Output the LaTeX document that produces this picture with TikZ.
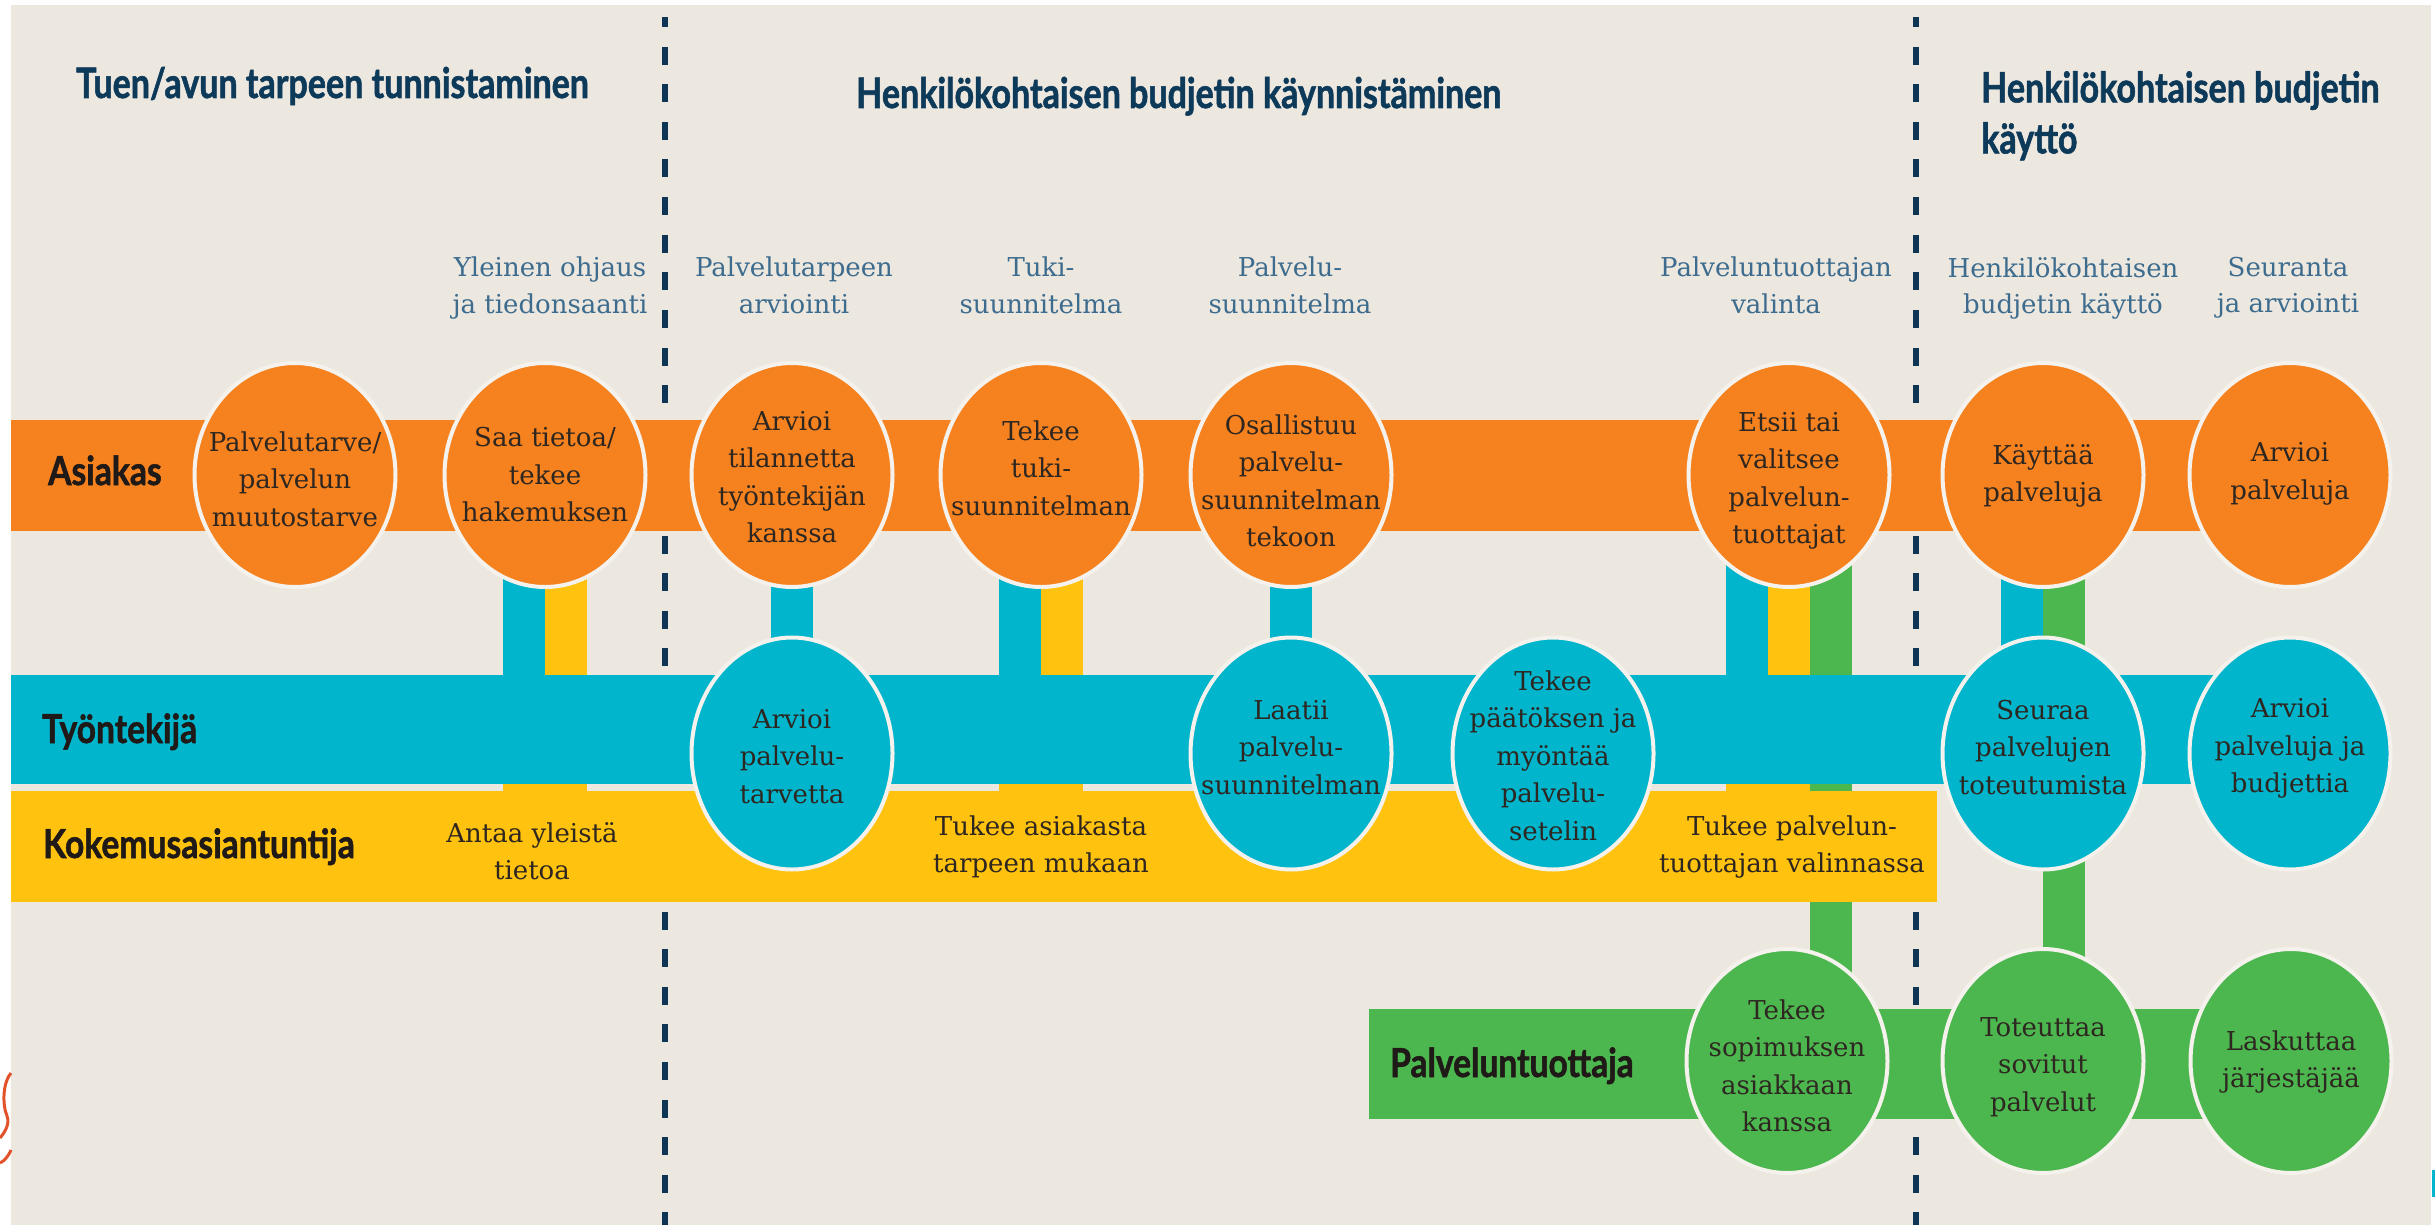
\documentclass[tikz,border=0pt]{standalone}
\usepackage{fontspec}
\usetikzlibrary{shapes.geometric,calc}
\newfontfamily\slabf{DejaVu Serif}
\newfontfamily\lanef{Lato}[FakeStretch=0.84,FakeBold=1.3]
\newfontfamily\headf{Lato}[FakeStretch=0.81,FakeBold=1.3]
\definecolor{bgc}{HTML}{ECE7DF}
\definecolor{orangec}{HTML}{F5821F}
\definecolor{tealc}{HTML}{00B5CC}
\definecolor{yellowc}{HTML}{FFC20E}
\definecolor{greenc}{HTML}{4DB74F}
\definecolor{ringc}{HTML}{F5F2ED}
\definecolor{dashc}{HTML}{0E3553}
\definecolor{headc}{HTML}{0E3A5A}
\definecolor{bluec}{HTML}{3D6C8E}
\definecolor{textc}{HTML}{2E2620}
\definecolor{labc}{HTML}{1F1A17}
\definecolor{squigc}{HTML}{E2532B}
\pgfdeclarelayer{bg}
\pgfdeclarelayer{bars}
\pgfsetlayers{bg,bars,main}
\begin{document}
\begin{tikzpicture}[x=1pt,y=-1pt,
  band/.style={rectangle, inner sep=0pt, draw=none, anchor=west},
  ell/.style={ellipse, draw=ringc, line width=4pt, minimum width=201pt, inner sep=0pt},
  oell/.style={ell, fill=orangec, minimum height=224pt},
  tell/.style={ell, fill=tealc, minimum height=232pt},
  gell/.style={ell, fill=greenc, minimum height=224pt},
  etxt/.style={font=\slabf\fontsize{26}{37.5}\selectfont, text=textc, align=center, inner sep=0pt},
  hlab/.style={font=\slabf\fontsize{26}{36.5}\selectfont, text=bluec, align=center, inner sep=0pt, anchor=north},
  lane/.style={font=\lanef\bfseries\fontsize{40}{48}\selectfont, text=labc, anchor=base west, inner sep=0pt},
  head/.style={font=\headf\bfseries\fontsize{42}{51}\selectfont, text=headc, inner sep=0pt, align=left},
  dashline/.style={draw=dashc, line width=5.5pt, dash pattern=on 18pt off 19.6pt, dash phase=7.9pt},
  tbar/.style={draw=tealc, line width=42pt},
  ybar/.style={draw=yellowc, line width=84pt},
  gbar/.style={draw=greenc, line width=42pt}
]
\useasboundingbox (0,0) rectangle (2435,1225);

\begin{pgfonlayer}{bg}
  \fill[white] (0,0) rectangle (2435,1225);
  \fill[bgc] (11,5) rectangle (2431,1225);
  \draw[dashline] (665,17) -- (665,1225);
  \draw[dashline] (1916,17) -- (1916,1225);
  \draw[squigc, line width=3pt] (11,1073) .. controls (3,1082) and (2,1104) .. (7,1116)
     .. controls (10,1124) and (5,1132) .. (0,1138);
  \draw[squigc, line width=3pt] (11,1150) .. controls (8,1157) and (4,1161) .. (0,1163);
  \fill[tealc] (2432,1170) rectangle (2435,1197);
\end{pgfonlayer}

% lanes
\node[band, fill=orangec, minimum width=2280pt, minimum height=111pt] (aband) at (11,475.5) {};
\node[band, fill=tealc, minimum width=2280pt, minimum height=109pt] (tband) at (11,729.5) {};
\node[band, fill=yellowc, minimum width=1926pt, minimum height=111pt] (yband) at (11,846.5) {};
\node[band, fill=greenc, minimum width=922pt, minimum height=110pt] (gband) at (1369,1064) {};

% Asiakas ellipses
\node[oell] (c1) at (295,475) {};
\node[oell] (c2) at (545,475) {};
\node[oell] (c3) at (792,475) {};
\node[oell] (c4) at (1041,475) {};
\node[oell] (c5) at (1291,475) {};
\node[oell] (c6) at (1789,475) {};
\node[oell] (c7) at (2043,475) {};
\node[oell] (c8) at (2290,475) {};
% Tyontekija ellipses
\node[tell] (t1) at (792,753.5) {};
\node[tell] (t2) at (1291,753.5) {};
\node[tell] (t3) at (1553,753.5) {};
\node[tell] (t4) at (2043,753.5) {};
\node[tell] (t5) at (2290,753.5) {};
% Palveluntuottaja ellipses
\node[gell] (g1) at (1787,1061) {};
\node[gell] (g2) at (2043,1061) {};
\node[gell] (g3) at (2291,1061) {};

% vertical connectors
\begin{pgfonlayer}{bars}
  \draw[ybar] (c2.center) -- (c2.center |- yband.center);
  \draw[tbar] ($(c2.center)+(-21,0)$) -- ($(c2.center |- tband.center)+(-21,0)$);
  \draw[tbar] (c3.center) -- (t1.center);
  \draw[ybar] (c4.center) -- (c4.center |- yband.center);
  \draw[tbar] ($(c4.center)+(-21,0)$) -- ($(c4.center |- tband.center)+(-21,0)$);
  \draw[tbar] (c5.center) -- (t2.center);
  \draw[gbar] ($(c6.center)+(42,0)$) -- ($(c6.center |- g1.center)+(42,0)$);
  \draw[ybar] ($(c6.center)+(-21,0)$) -- ($(c6.center |- yband.center)+(-21,0)$);
  \draw[tbar] ($(c6.center)+(-42,0)$) -- ($(c6.center |- tband.center)+(-42,0)$);
  \draw[gbar] ($(c7.center)+(21,0)$) -- ($(c7.center |- g2.center)+(21,0)$);
  \draw[tbar] ($(c7.center)+(-21,0)$) -- ($(c7.center |- t4.center)+(-21,0)$);
\end{pgfonlayer}

% headings
\node[head, anchor=base west] (h1) at (76,98) {Tuen/avun tarpeen tunnistaminen};
\node[head, anchor=base west] (h2) at (856,108) {Henkilökohtaisen budjetin käynnistäminen};
\node[head, anchor=north west] (h3) at (1981,71) {Henkilökohtaisen budjetin\\käyttö};

% phase labels
\node[hlab] (p1) at (550,257) {Yleinen ohjaus\\ja tiedonsaanti};
\node[hlab] (p2) at (794,257) {Palvelutarpeen\\arviointi};
\node[hlab] (p3) at (1041,257) {Tuki-\\suunnitelma};
\node[hlab] (p4) at (1290,257) {Palvelu-\\suunnitelma};
\node[hlab] (p5) at (1776,257) {Palveluntuottajan\\valinta};
\node[hlab] (p6) at (2063,257) {Henkilökohtaisen\\budjetin käyttö};
\node[hlab] (p7) at (2288,257) {Seuranta\\ja arviointi};

% lane labels
\node[lane] (l1) at (48,485) {Asiakas};
\node[lane] (l2) at (42,743) {Työntekijä};
\node[lane] (l3) at (43,858) {Kokemusasiantuntija};
\node[lane] (l4) at (1390,1077) {Palveluntuottaja};

% ellipse texts
\node[etxt] at ($(c1)+(0,4)$) {Palvelutarve/\\palvelun\\muutostarve};
\node[etxt] at ($(c2)+(0,0)$) {Saa tietoa/\\tekee\\hakemuksen};
\node[etxt] at ($(c3)+(0,2)$) {Arvioi\\tilannetta\\työntekijän\\kanssa};
\node[etxt] at ($(c4)+(0,-7)$) {Tekee\\tuki-\\suunnitelman};
\node[etxt] at ($(c5)+(0,6)$) {Osallistuu\\palvelu-\\suunnitelman\\tekoon};
\node[etxt] at ($(c6)+(0,6)$) {Etsii tai\\valitsee\\palvelun-\\tuottajat};
\node[etxt] at ($(c7)+(0,1)$) {Käyttää\\palveluja};
\node[etxt] at ($(c8)+(0,-1)$) {Arvioi\\palveluja};
\node[etxt] at ($(t1)+(0,3)$) {Arvioi\\palvelu-\\tarvetta};
\node[etxt] at ($(t2)+(0,-6)$) {Laatii\\palvelu-\\suunnitelman};
\node[etxt] at ($(t3)+(0,2)$) {Tekee\\päätöksen ja\\myöntää\\palvelu-\\setelin};
\node[etxt] at ($(t4)+(0,-6)$) {Seuraa\\palvelujen\\toteutumista};
\node[etxt] at ($(t5)+(0,-5)$) {Arvioi\\palveluja ja\\budjettia};
\node[etxt] at ($(g1)+(0,5)$) {Tekee\\sopimuksen\\asiakkaan\\kanssa};
\node[etxt] at ($(g2)+(0,6)$) {Toteuttaa\\sovitut\\palvelut};
\node[etxt] at ($(g3)+(0,1)$) {Laskuttaa\\järjestäjää};

% Kokemusasiantuntija texts
\node[etxt] (k1) at (532,851) {Antaa yleistä\\tietoa};
\node[etxt] (k2) at (1041,847) {Tukee asiakasta\\tarpeen mukaan};
\node[etxt] (k3) at (1792,847) {Tukee palvelun-\\tuottajan valinnassa};
\end{tikzpicture}
\end{document}
